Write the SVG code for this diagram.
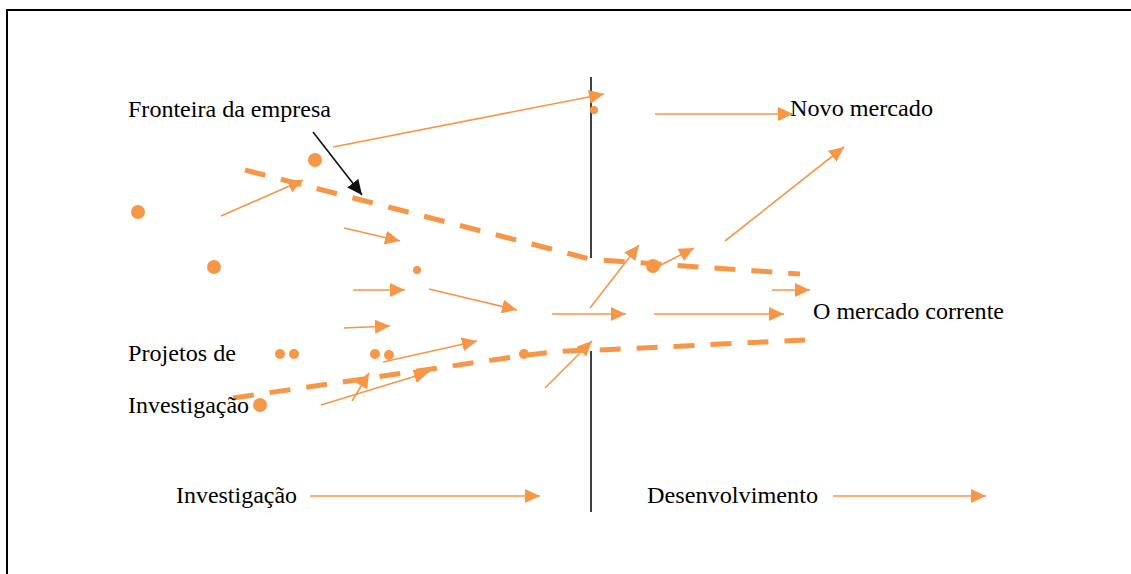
<svg xmlns="http://www.w3.org/2000/svg" width="1131" height="574" viewBox="0 0 1131 574">
  <style>
    .lbl { font-family: 'Liberation Serif', 'Times New Roman', serif; font-size: 23px; fill: #000; }
    .dot { fill: #F79646; }
    .arr { stroke: #F79646; stroke-width: 1.6; fill: none; marker-end: url(#headO); }
    .blk { stroke: #111; stroke-width: 1.6; fill: none; marker-end: url(#headK); }
    .bound { stroke: #F79646; stroke-width: 5; fill: none; stroke-dasharray: 21 16; }
    .axis { stroke: #111; stroke-width: 1.6; fill: none; }
  </style>
  <defs>
    <marker id="headO" markerUnits="userSpaceOnUse" markerWidth="16" markerHeight="14" refX="15" refY="7" orient="auto">
      <path d="M0,0 L15,7 L0,14 z" fill="#F79646"/>
    </marker>
    <marker id="headK" markerUnits="userSpaceOnUse" markerWidth="16" markerHeight="14" refX="15" refY="7" orient="auto">
      <path d="M0,0 L15,7 L0,14 z" fill="#111"/>
    </marker>
  </defs>

  <rect width="1131" height="574" fill="#fff"/>
  <!-- frame -->
  <path d="M7,574 V10 H1131" stroke="#000" stroke-width="2" fill="none"/>

  <!-- phase divider -->
  <g id="divider">
    <line class="axis" x1="591" y1="77" x2="591" y2="258"/>
    <line class="axis" x1="591" y1="351" x2="591" y2="512"/>
  </g>

  <!-- company boundary (dashed funnel) -->
  <g id="boundary">
    <path class="bound" d="M245,170 L578,256 Q588,259 600,260 L800,274"/>
    <path class="bound" d="M233,398 L520,356 Q560,350 600,350 L805,340"/>
  </g>

  <!-- labels -->
  <g id="label-fronteira"><text class="lbl" x="128" y="117" textLength="203" lengthAdjust="spacingAndGlyphs">Fronteira da empresa</text></g>
  <g id="label-novo"><text class="lbl" x="790" y="116" textLength="143" lengthAdjust="spacingAndGlyphs">Novo mercado</text></g>
  <g id="label-corrente"><text class="lbl" x="813" y="319" textLength="191" lengthAdjust="spacingAndGlyphs">O mercado corrente</text></g>
  <g id="label-projetos">
    <text class="lbl" x="128" y="361" textLength="108" lengthAdjust="spacingAndGlyphs">Projetos de</text>
    <text class="lbl" x="128" y="413" textLength="121" lengthAdjust="spacingAndGlyphs">Investigação</text>
  </g>
  <g id="label-investigacao"><text class="lbl" x="176" y="503" textLength="121" lengthAdjust="spacingAndGlyphs">Investigação</text></g>
  <g id="label-desenvolvimento"><text class="lbl" x="647" y="503" textLength="171" lengthAdjust="spacingAndGlyphs">Desenvolvimento</text></g>

  <!-- projects -->
  <g id="projects">
    <circle class="dot" cx="138" cy="212" r="7"/>
    <circle class="dot" cx="214" cy="267" r="7"/>
    <circle class="dot" cx="315" cy="160" r="7"/>
    <circle class="dot" cx="594" cy="110" r="4"/>
    <circle class="dot" cx="417" cy="270" r="4"/>
    <circle class="dot" cx="280" cy="354" r="5"/>
    <circle class="dot" cx="294" cy="354" r="5"/>
    <circle class="dot" cx="375" cy="354" r="5"/>
    <circle class="dot" cx="389" cy="355" r="5"/>
    <circle class="dot" cx="524" cy="354" r="5"/>
    <circle class="dot" cx="260" cy="405" r="7"/>
    <circle class="dot" cx="653" cy="266" r="7"/>
  </g>

  <!-- project flows -->
  <g id="connectors">
    <line class="arr" x1="333" y1="147" x2="604" y2="94"/>
    <line class="arr" x1="655" y1="114" x2="793" y2="114"/>
    <line class="arr" x1="725" y1="241" x2="844" y2="147"/>
    <line class="arr" x1="221" y1="216" x2="303" y2="180"/>
    <line class="blk" x1="313" y1="132" x2="362" y2="195"/>
    <line class="arr" x1="344" y1="228" x2="400" y2="241"/>
    <line class="arr" x1="353" y1="290" x2="405" y2="290"/>
    <line class="arr" x1="429" y1="289" x2="517" y2="310"/>
    <line class="arr" x1="344" y1="328" x2="390" y2="326"/>
    <line class="arr" x1="383" y1="362" x2="477" y2="341"/>
    <line class="arr" x1="321" y1="405" x2="429" y2="372"/>
    <line class="arr" x1="352" y1="401" x2="369" y2="373"/>
    <line class="arr" x1="552" y1="314" x2="626" y2="314"/>
    <line class="arr" x1="590" y1="308" x2="639" y2="245"/>
    <line class="arr" x1="661" y1="265" x2="694" y2="248"/>
    <line class="arr" x1="654" y1="314" x2="784" y2="314"/>
    <line class="arr" x1="772" y1="290" x2="810" y2="290"/>
    <line class="arr" x1="545" y1="388" x2="592" y2="341"/>
    <line class="arr" x1="310" y1="496" x2="540" y2="496"/>
    <line class="arr" x1="833" y1="496" x2="986" y2="496"/>
  </g>
</svg>
